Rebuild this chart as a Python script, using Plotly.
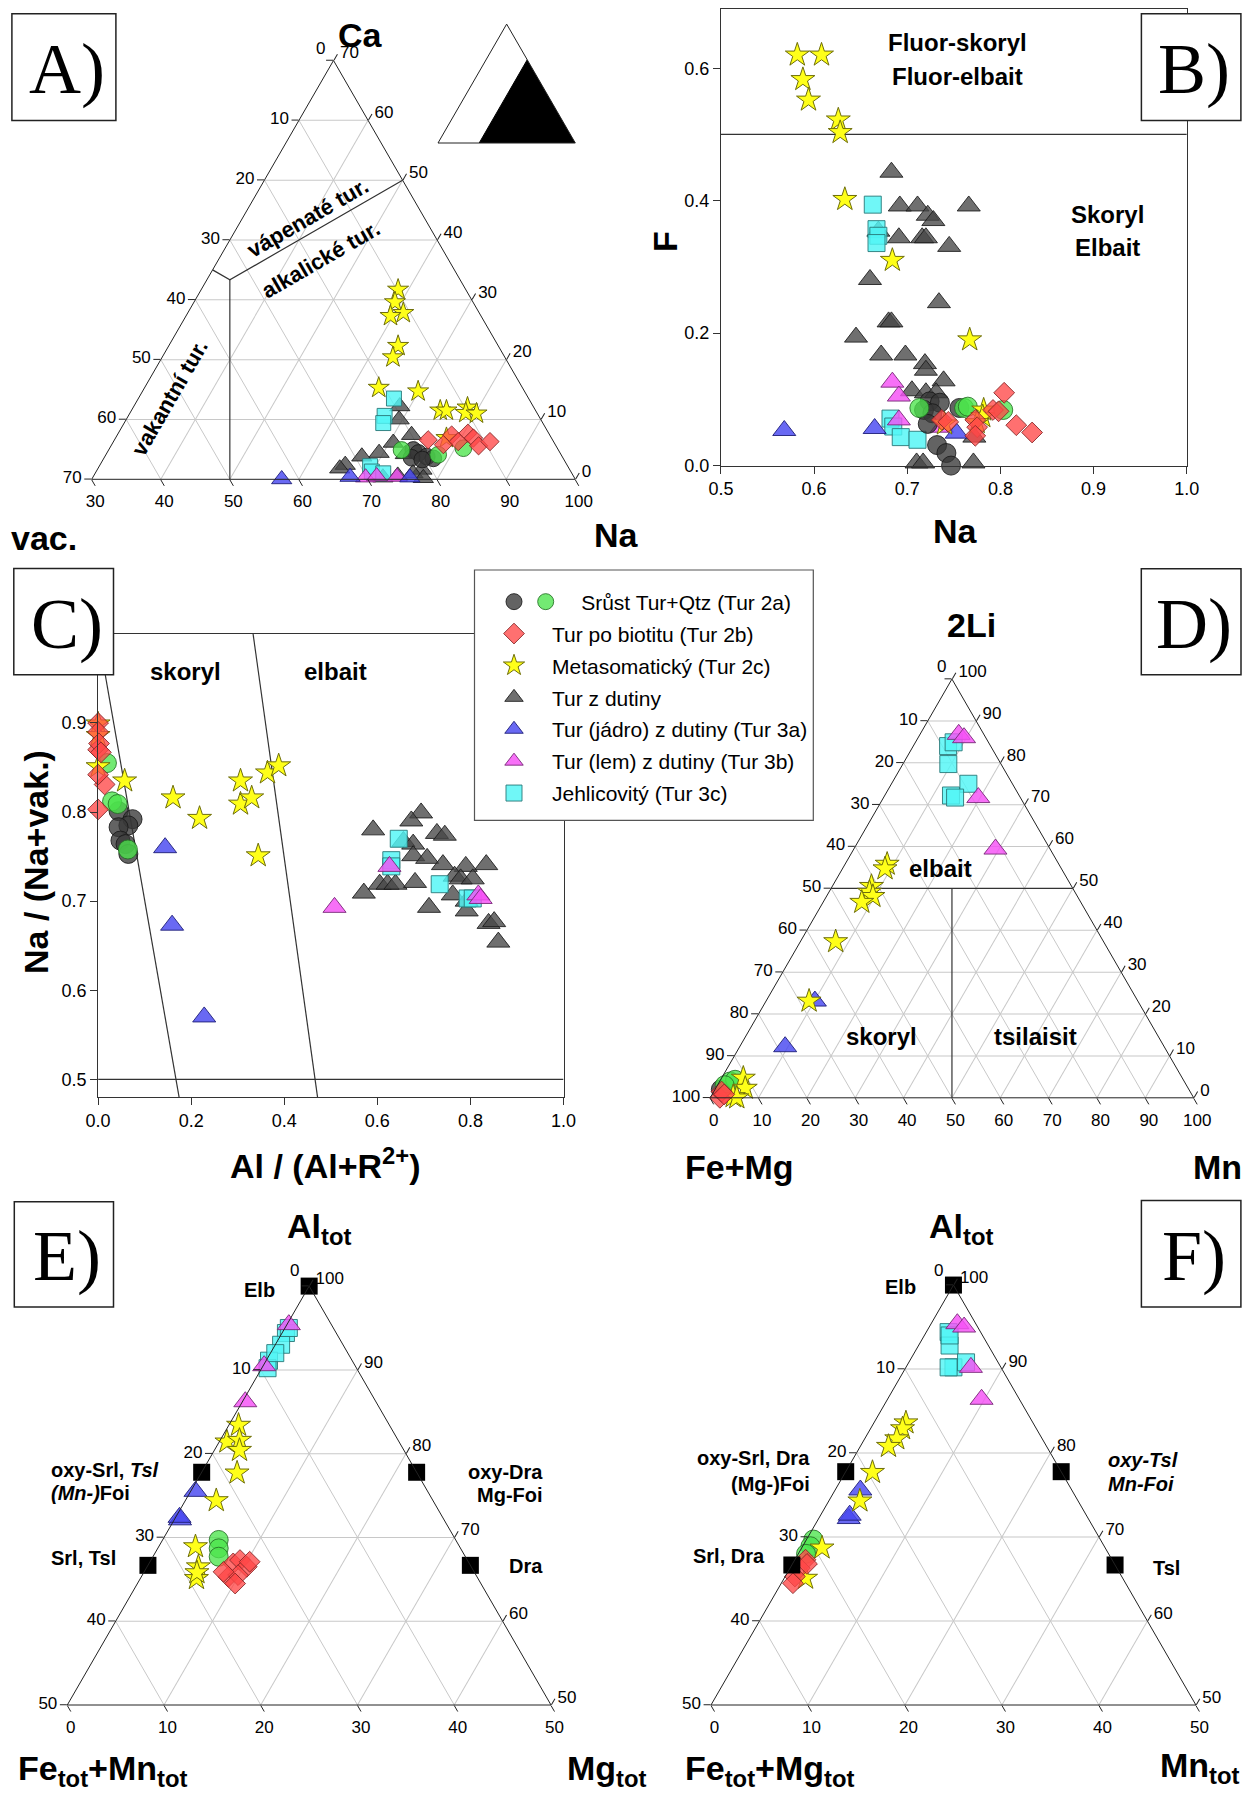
import math
import plotly.graph_objects as go

# page size and the 8px body margin of the html page
W, H = 1259, 1798
OX, OY = 8, 8
FW, FH = W - OX, H - OY
SANS = "Liberation Sans, Arial, Helvetica, sans-serif"
SERIF = "Liberation Serif, Times New Roman, serif"

# ======================= DATA =======================
cat_2a = "Srůst Tur+Qtz (Tur 2a)"
cat_2b = "Tur po biotitu (Tur 2b)"
cat_2c = "Metasomatický (Tur 2c)"
cat_dut = "Tur z dutiny"
cat_3a = "Tur (jádro) z dutiny (Tur 3a)"
cat_3b = "Tur (lem) z dutiny (Tur 3b)"
cat_3c = "Jehlicovitý (Tur 3c)"

# ---- A) ternary Ca / vac. / Na (vac. = 100 - Ca - Na)
A_dut_ca = [12.2, 10.0, 7.4, 6.1, 4.4, 3.8, 2.4, 1.8, 1.6, 1.0, 0.2, 0.3, 0.6, 4.2]
A_dut_na = [68.5, 69.5, 72.6, 70.6, 69.4, 67.2, 65.5, 65.0, 77.0, 76.0, 77.9, 72.0, 74.0, 73.3]
A_3c_ca = [13.5, 10.6, 9.4, 2.2, 1.3, 1.0]
A_3c_na = [67.0, 67.1, 67.5, 69.2, 69.9, 71.7]
A_3b_ca = [0.3, 0.4, 0.5]
A_3b_na = [69.5, 74.0, 71.0]
A_3a_ca = [0.0, 0.4, 0.3]
A_3a_na = [57.5, 67.2, 75.9]
A_2a_ca = [4.9, 4.4, 3.8, 3.5, 3.6, 3.3]
A_2a_na = [74.1, 75.1, 76.6, 77.7, 74.5, 76.2]
A_2ag_ca = [4.9, 4.1, 5.2]
A_2ag_na = [72.4, 78.1, 81.2]
A_2c_ca = [31.7, 29.6, 27.8, 27.3, 22.3, 20.4, 15.3, 14.7, 11.5, 11.5, 12.0, 11.1, 11.0, 6.9]
A_2c_na = [58.5, 59.1, 61.2, 59.6, 63.2, 63.4, 63.9, 69.9, 74.7, 75.6, 78.4, 78.6, 80.2, 77.9]
A_2b_ca = [6.6, 7.4, 7.7, 6.9, 5.6, 6.3, 5.8, 6.3]
A_2b_na = [75.4, 78.4, 80.6, 81.8, 83.2, 84.5, 78.0, 79.9]
A_line1_ca = [35.0, 33.33, 50.0]
A_line1_na = [30.0, 33.33, 50.0]
A_line2_ca = [33.33, 0.0]
A_line2_na = [33.33, 50.0]
ICON_ca = [70, 0, 0, 70]
ICON_na = [30, 30, 100, 30]

# ---- B) Na vs F
B_dut_na = [0.683, 0.692, 0.711, 0.766, 0.722, 0.728, 0.691, 0.716, 0.720, 0.745, 0.669, 0.660, 0.734, 0.680,
            0.683, 0.645, 0.672, 0.698, 0.719, 0.720, 0.739, 0.705, 0.720, 0.731, 0.710, 0.717, 0.771, 0.772]
B_dut_f = [0.443, 0.392, 0.392, 0.392, 0.378, 0.370, 0.344, 0.344, 0.344, 0.331, 0.354, 0.281, 0.246, 0.217,
           0.217, 0.194, 0.167, 0.167, 0.154, 0.144, 0.128, 0.113, 0.110, 0.110, 0.004, 0.004, 0.004, 0.043]
B_3c_na = [0.663, 0.667, 0.669, 0.667, 0.682, 0.685, 0.693, 0.711]
B_3c_f = [0.394, 0.357, 0.347, 0.336, 0.071, 0.059, 0.043, 0.039]
B_3b_na = [0.684, 0.691, 0.691, 0.737]
B_3b_f = [0.126, 0.105, 0.069, 0.058]
B_3a_na = [0.568, 0.665, 0.753]
B_3a_f = [0.053, 0.056, 0.049]
B_2a_na = [0.724, 0.735, 0.718, 0.727, 0.722, 0.732, 0.742, 0.747, 0.756]
B_2a_f = [0.097, 0.095, 0.084, 0.079, 0.063, 0.031, 0.019, 0.000, 0.087]
B_2ag_na = [0.713, 0.761, 0.765, 0.803]
B_2ag_f = [0.087, 0.087, 0.089, 0.084]
B_2c_na = [0.582, 0.608, 0.588, 0.594, 0.626, 0.628, 0.633, 0.684, 0.767, 0.782, 0.781, 0.740, 0.775]
B_2c_f = [0.620, 0.620, 0.583, 0.552, 0.522, 0.503, 0.402, 0.310, 0.190, 0.084, 0.074, 0.063, 0.065]
B_2b_na = [0.804, 0.817, 0.834, 0.792, 0.798, 0.737, 0.744, 0.773, 0.775, 0.773]
B_2b_f = [0.110, 0.061, 0.050, 0.084, 0.082, 0.069, 0.066, 0.069, 0.058, 0.045]
B_line_na = [0.5, 1.0]
B_line_f = [0.5, 0.5]
B_xticks = [0.5, 0.6, 0.7, 0.8, 0.9, 1.0]
B_yticks = [0.0, 0.2, 0.4, 0.6]

# ---- C) Al/(Al+R2+) vs Na/(Na+vak.)
C_dut_x = [0.591, 0.694, 0.673, 0.728, 0.745, 0.656, 0.677, 0.677, 0.707, 0.741, 0.790, 0.834, 0.766, 0.779,
           0.805, 0.571, 0.605, 0.622, 0.639, 0.681, 0.762, 0.711, 0.792, 0.839, 0.851, 0.860, 0.792]
C_dut_y = [0.780, 0.799, 0.790, 0.776, 0.774, 0.767, 0.764, 0.751, 0.748, 0.741, 0.739, 0.741, 0.728, 0.725,
           0.725, 0.709, 0.719, 0.719, 0.719, 0.721, 0.707, 0.693, 0.689, 0.675, 0.677, 0.654, 0.700]
C_3c_x = [0.646, 0.630, 0.630, 0.734, 0.794, 0.805]
C_3c_y = [0.770, 0.746, 0.739, 0.719, 0.703, 0.703]
C_3b_x = [0.508, 0.626, 0.817, 0.822]
C_3b_y = [0.693, 0.739, 0.707, 0.703]
C_3a_x = [0.144, 0.159, 0.228]
C_3a_y = [0.760, 0.673, 0.570]
C_2a_x = [0.044, 0.074, 0.065, 0.044, 0.048, 0.059, 0.065]
C_2a_y = [0.801, 0.792, 0.785, 0.783, 0.768, 0.764, 0.753]
C_2ag_x = [0.019, 0.030, 0.042, 0.064]
C_2ag_y = [0.855, 0.812, 0.809, 0.758]
C_2c_x = [0.0, 0.0, 0.0, 0.057, 0.161, 0.218, 0.306, 0.306, 0.330, 0.364, 0.388, 0.344]
C_2c_y = [0.899, 0.886, 0.851, 0.835, 0.816, 0.793, 0.835, 0.809, 0.816, 0.844, 0.852, 0.751]
C_2b_x = [0.0, 0.0, 0.0, 0.002, 0.014, 0.0, 0.0, 0.006]
C_2b_y = [0.900, 0.890, 0.870, 0.877, 0.831, 0.842, 0.803, 0.867]
C_hline_x = [0.0, 1.0]
C_hline_y = [0.5, 0.5]
C_line1_x = [0.0, 0.174]
C_line1_y = [1.0, 0.48]
C_line2_x = [0.333, 0.4715]
C_line2_y = [1.0, 0.48]
C_xticks = [0.0, 0.2, 0.4, 0.6, 0.8, 1.0]
C_yticks = [0.5, 0.6, 0.7, 0.8, 0.9]

# ---- D) ternary 2Li / Fe+Mg / Mn
D_3c_li = [84.0, 84.9, 79.7, 72.2, 75.0, 71.7]
D_3c_mn = [7.2, 7.9, 9.4, 13.7, 15.9, 14.8]
D_3b_li = [86.8, 86.0, 71.7, 59.4]
D_3b_mn = [8.0, 9.5, 19.6, 29.3]
D_3a_li = [23.1, 12.2]
D_3a_mn = [10.1, 9.4]
D_2a_li = [2.0]
D_2a_mn = [1.2]
D_2ag_li = [3.9, 4.3, 3.0]
D_2ag_mn = [2.2, 3.0, 1.5]
D_2c_li = [55.8, 54.7, 50.5, 49.1, 48.1, 46.7, 37.3, 23.1, 4.7, 2.3, 0.3, 0.0]
D_2c_mn = [8.7, 8.8, 8.1, 8.4, 9.6, 8.0, 7.3, 8.9, 4.5, 6.1, 4.6, 5.5]
D_2b_li = [0.0, 1.5, 0.8]
D_2b_mn = [2.0, 1.6, 2.5]
D_line1_li = [50, 50]
D_line1_mn = [0, 50]
D_line2_li = [50, 0]
D_line2_mn = [25, 50]

# ---- E) ternary Al_tot / Fe_tot+Mn_tot / Mg_tot
E_3c_al = [94.4, 93.0, 91.1, 90.2, 95.0, 92.0]
E_3c_mg = [0.4, 0.6, 0.3, 0.6, 0.4, 0.5]
E_3b_al = [95.4, 86.2, 90.5]
E_3b_mg = [0.2, 0.3, 0.1]
E_3a_al = [75.5, 72.1, 72.4]
E_3a_mg = [0.5, 0.6, 0.4]
E_2ag_al = [69.7, 68.7, 67.7]
E_2ag_mg = [5.8, 6.3, 6.8]
E_2c_al = [83.4, 81.4, 81.6, 80.4, 77.7, 74.4, 68.9, 66.5, 65.1, 65.8]
E_2c_mg = [1.0, 0.8, 2.0, 2.6, 3.7, 3.2, 3.8, 5.3, 5.8, 5.5]
E_2b_al = [66.9, 67.3, 66.5, 65.3, 65.5, 67.1, 65.9, 64.5]
E_2b_mg = [8.7, 9.2, 10.3, 9.0, 9.9, 10.3, 8.2, 10.1]
EM_al = [100.0, 77.78, 66.67, 77.78, 66.67]
EM_right = [0.0, 0.0, 0.0, 22.22, 33.33]

# ---- F) ternary Al_tot / Fe_tot+Mg_tot / Mn_tot
F_3c_al = [94.4, 92.8, 90.2, 90.2, 90.8, 94.0]
F_3c_mn = [2.3, 3.2, 4.9, 4.4, 5.9, 2.6]
F_3b_al = [95.4, 95.0, 90.2, 86.4]
F_3b_mn = [2.7, 3.6, 6.7, 9.7]
F_3a_al = [75.6, 72.2, 72.6]
F_3a_mn = [2.6, 3.1, 3.0]
F_2ag_al = [69.7, 68.9, 68.0]
F_2ag_mn = [0.7, 0.8, 0.8]
F_2c_al = [83.6, 82.9, 81.7, 80.8, 77.7, 74.3, 68.7, 65.1]
F_2c_mn = [3.3, 3.3, 3.3, 2.9, 2.8, 3.2, 2.1, 2.2]
F_2b_al = [67.3, 66.3, 65.3, 64.5, 66.8]
F_2b_mn = [1.1, 1.0, 1.0, 1.2, 1.5]

# ======================= STYLES =======================
STY = {
    'dut': dict(symbol='triangle-up', size=20, color='rgba(70,70,70,0.78)', line='rgba(25,25,25,0.85)'),
    '3c': dict(symbol='square', size=17, color='rgba(80,245,245,0.82)', line='rgba(40,120,120,0.9)'),
    '3b': dict(symbol='triangle-up', size=20, color='rgba(245,80,245,0.82)', line='rgba(120,40,120,0.9)'),
    '3a': dict(symbol='triangle-up', size=20, color='rgba(72,72,240,0.82)', line='rgba(30,30,120,0.9)'),
    '2a': dict(symbol='circle', size=19, color='rgba(55,55,55,0.78)', line='rgba(25,25,25,0.85)'),
    '2ag': dict(symbol='circle', size=19, color='rgba(75,228,75,0.78)', line='rgba(35,110,35,0.85)'),
    '2c': dict(symbol='star', size=18, color='rgb(255,255,25)', line='rgb(110,110,10)'),
    '2b': dict(symbol='diamond', size=16, color='rgba(255,72,72,0.78)', line='rgba(130,35,35,0.85)'),
}
NAMES = {'2a': cat_2a, '2b': cat_2b, '2c': cat_2c, 'dut': cat_dut, '3a': cat_3a, '3b': cat_3b, '3c': cat_3c}
RANK = {'2a': 1, '2b': 2, '2c': 3, 'dut': 4, '3a': 5, '3b': 6, '3c': 7}
ORDER = ['dut', '3c', '3b', '3a', '2a', '2ag', '2c', '2b']

fig = go.Figure()


def mk_marker(key, scale):
    s = STY[key]
    return dict(symbol=s['symbol'], size=s['size'] * scale, color=s['color'],
                line=dict(color=s['line'], width=1))


def add_tern(sub, series, scale):
    for key in ORDER:
        if key in series:
            a, c = series[key]
            fig.add_trace(go.Scatterternary(a=a, c=c, mode='markers', subplot=sub, cliponaxis=False,
                                            showlegend=False, hoverinfo='skip', marker=mk_marker(key, scale)))


def add_tern_line(sub, a, c):
    fig.add_trace(go.Scatterternary(a=a, c=c, mode='lines', subplot=sub, showlegend=False, hoverinfo='skip',
                                    line=dict(color='#333333', width=1.2)))


def add_cart(xa, ya, series, legend=False):
    for key in ORDER:
        if key in series:
            x, y = series[key]
            kw = dict(showlegend=False)
            if legend:
                if key == '2ag':
                    kw = dict(showlegend=True, name=' ', legend='legend2')
                else:
                    nm = NAMES[key]
                    if key == '2a':
                        nm = '\u00a0' * 5 + nm
                    kw = dict(showlegend=True, name=nm, legendgroup=key, legendrank=RANK[key])
            fig.add_trace(go.Scatter(x=x, y=y, mode='markers', xaxis=xa, yaxis=ya, cliponaxis=False,
                                     hoverinfo='skip', marker=mk_marker(key, 1.0), **kw))


def add_cart_line(xa, ya, x, y):
    fig.add_trace(go.Scatter(x=x, y=y, mode='lines', xaxis=xa, yaxis=ya, showlegend=False, hoverinfo='skip',
                             line=dict(color='#333333', width=1.2)))


# ---- panel A
add_tern_line('ternary', A_line1_ca, A_line1_na)
add_tern_line('ternary', A_line2_ca, A_line2_na)
add_tern('ternary', {'dut': (A_dut_ca, A_dut_na), '3c': (A_3c_ca, A_3c_na), '3b': (A_3b_ca, A_3b_na),
                     '3a': (A_3a_ca, A_3a_na), '2a': (A_2a_ca, A_2a_na), '2ag': (A_2ag_ca, A_2ag_na),
                     '2c': (A_2c_ca, A_2c_na), '2b': (A_2b_ca, A_2b_na)}, 0.88)
fig.add_trace(go.Scatterternary(a=ICON_ca, c=ICON_na, mode='lines', fill='toself', subplot='ternary5',
                                fillcolor='black', line=dict(color='black', width=1), showlegend=False,
                                hoverinfo='skip'))

# ---- panel B
add_cart_line('x', 'y', B_line_na, B_line_f)
add_cart('x', 'y', {'dut': (B_dut_na, B_dut_f), '3c': (B_3c_na, B_3c_f), '3b': (B_3b_na, B_3b_f),
                    '3a': (B_3a_na, B_3a_f), '2a': (B_2a_na, B_2a_f), '2ag': (B_2ag_na, B_2ag_f),
                    '2c': (B_2c_na, B_2c_f), '2b': (B_2b_na, B_2b_f)})

# ---- panel C
add_cart_line('x2', 'y2', C_hline_x, C_hline_y)
add_cart_line('x2', 'y2', C_line1_x, C_line1_y)
add_cart_line('x2', 'y2', C_line2_x, C_line2_y)
add_cart('x2', 'y2', {'dut': (C_dut_x, C_dut_y), '3c': (C_3c_x, C_3c_y), '3b': (C_3b_x, C_3b_y),
                      '3a': (C_3a_x, C_3a_y), '2a': (C_2a_x, C_2a_y), '2ag': (C_2ag_x, C_2ag_y),
                      '2c': (C_2c_x, C_2c_y), '2b': (C_2b_x, C_2b_y)}, legend=True)

# ---- panel D
add_tern_line('ternary2', D_line1_li, D_line1_mn)
add_tern_line('ternary2', D_line2_li, D_line2_mn)
add_tern('ternary2', {'3c': (D_3c_li, D_3c_mn), '3b': (D_3b_li, D_3b_mn), '3a': (D_3a_li, D_3a_mn),
                      '2a': (D_2a_li, D_2a_mn), '2ag': (D_2ag_li, D_2ag_mn), '2c': (D_2c_li, D_2c_mn),
                      '2b': (D_2b_li, D_2b_mn)}, 1.0)

# ---- panel E
add_tern('ternary3', {'3c': (E_3c_al, E_3c_mg), '3b': (E_3b_al, E_3b_mg), '3a': (E_3a_al, E_3a_mg),
                      '2ag': (E_2ag_al, E_2ag_mg), '2c': (E_2c_al, E_2c_mg), '2b': (E_2b_al, E_2b_mg)}, 1.0)
fig.add_trace(go.Scatterternary(a=EM_al, c=EM_right, mode='markers', subplot='ternary3', cliponaxis=False,
                                showlegend=False, hoverinfo='skip',
                                marker=dict(symbol='square', size=17, color='black')))

# ---- panel F
add_tern('ternary4', {'3c': (F_3c_al, F_3c_mn), '3b': (F_3b_al, F_3b_mn), '3a': (F_3a_al, F_3a_mn),
                      '2ag': (F_2ag_al, F_2ag_mn), '2c': (F_2c_al, F_2c_mn), '2b': (F_2b_al, F_2b_mn)}, 1.0)
fig.add_trace(go.Scatterternary(a=EM_al, c=EM_right, mode='markers', subplot='ternary4', cliponaxis=False,
                                showlegend=False, hoverinfo='skip',
                                marker=dict(symbol='square', size=17, color='black')))

# ======================= LAYOUT =======================
SQ3 = math.sqrt(3) / 2


def fx(x):
    return min(1.0, max(0.0, (x - OX) / FW))


def fy(y):
    return min(1.0, max(0.0, 1 - (y - OY) / FH))


def tdomain(x0, x1, ybot):
    ytop = ybot - (x1 - x0) * SQ3
    return dict(x=[fx(x0), fx(x1)], y=[fy(ybot), fy(ytop)])


def tlayout(x0, x1, ybot, amin=0, bmin=0, cmin=0, step=10, show=True):
    S = 100

    def ax(mn, vals, labels):
        d = dict(min=mn, linecolor='#222222', linewidth=1, showline=True,
                 title=dict(text=''), layer='above traces')
        if show:
            d.update(tickmode='array', tickvals=vals, ticktext=labels, ticks='outside', ticklen=7,
                     tickwidth=1, tickcolor='#222222', showgrid=True, gridcolor='#c8c8c8', gridwidth=1,
                     tickfont=dict(family=SANS, size=17, color='black'))
        else:
            d.update(showgrid=False, showticklabels=False, ticks='')
        return d

    av = list(range(amin, S - bmin - cmin + 1, step))
    bv = list(range(bmin, S - amin - cmin + 1, step))
    cv = list(range(cmin, S - amin - bmin + 1, step))
    # the apex label ("0") is written separately above the apex, as in the original
    a_lab = [str(S - cmin - v) if v != av[-1] else '' for v in av]
    return dict(domain=tdomain(x0, x1, ybot), sum=S, bgcolor='white',
                aaxis=ax(amin, av, a_lab),
                baxis=ax(bmin, bv, [str(S - amin - v) for v in bv]),
                caxis=ax(cmin, cv, [str(S - bmin - v) for v in cv]))


def cax(dom, rng, ticks, anchor, fmt):
    return dict(domain=dom, range=rng, anchor=anchor, tickmode='array', tickvals=ticks,
                ticktext=[fmt.format(v) for v in ticks], showline=True, mirror=True, linecolor='#333333',
                linewidth=1, ticks='outside', ticklen=7, tickcolor='#333333', showgrid=False, zeroline=False,
                automargin=False, tickfont=dict(family=SANS, size=18, color='black'))


annotations = []


def ann(text, x, y, size=25, bold=True, angle=0, xanchor='center', family=SANS):
    annotations.append(dict(text=('<b>%s</b>' % text) if bold else text, x=fx(x), y=fy(y), xref='paper',
                            yref='paper', showarrow=False, textangle=angle, xanchor=xanchor,
                            yanchor='middle', font=dict(family=family, size=size, color='black')))


# apex tick labels
for ax_, ay_ in [(320.3, 48.2), (941.3, 666.8), (294.3, 1270.7), (938.9, 1270.7)]:
    ann('0', ax_, ay_, 17, bold=False)

# axis titles
T = 34
ann('Ca', 360, 35, T)
ann('vac.', 43.6, 538, T)
ann('Na', 616, 535, T)
ann('Na', 955, 531, T)
ann('F', 665, 241, T, angle=-90)
ann('Al / (Al+R<sup>2+</sup>)', 325, 1163, T)
ann('Na / (Na+vak.)', 36, 862, T, angle=-90)
ann('2Li', 971.5, 625, T)
ann('Fe+Mg', 739.3, 1167, T)
ann('Mn', 1217, 1167, T)
ann('Al<sub>tot</sub>', 319, 1228, T)
ann('Fe<sub>tot</sub>+Mn<sub>tot</sub>', 102, 1770, T)
ann('Mg<sub>tot</sub>', 607, 1770, T)
ann('Al<sub>tot</sub>', 961, 1228, T)
ann('Fe<sub>tot</sub>+Mg<sub>tot</sub>', 769, 1770, T)
ann('Mn<sub>tot</sub>', 1200, 1767, T)

# field labels
ann('vápenaté tur.', 308.4, 217.6, 22, angle=-30)
ann('alkalické tur.', 321, 260, 22, angle=-30)
ann('vakantní tur.', 170, 397.7, 22, angle=-60)
ann('Fluor-skoryl', 957.8, 43, 24)
ann('Fluor-elbait', 957.8, 76.4, 24)
ann('Skoryl', 1107.8, 215, 24)
ann('Elbait', 1107.8, 248, 24)
ann('skoryl', 185, 671.4, 24)
ann('elbait', 335.3, 671.4, 24)
ann('elbait', 940.5, 868.4, 24)
ann('skoryl', 881.8, 1036.5, 24)
ann('tsilaisit', 1035.6, 1036.5, 24)

# end-member labels
ann('Elb', 259.6, 1290.4, 20)
ann('oxy-Srl, <i>Tsl</i>', 49, 1469.7, 20, xanchor='left')
ann('<i>(Mn-)</i>Foi', 49, 1493.4, 20, xanchor='left')
ann('Srl, Tsl', 49, 1558.4, 20, xanchor='left')
ann('oxy-Dra', 545, 1471.7, 20, xanchor='right')
ann('Mg-Foi', 545, 1495.3, 20, xanchor='right')
ann('Dra', 545, 1566.3, 20, xanchor='right')
ann('Elb', 900.6, 1287.2, 20)
ann('oxy-Srl, Dra', 811.7, 1457.9, 20, xanchor='right')
ann('(Mg-)Foi', 811.7, 1483.5, 20, xanchor='right')
ann('Srl, Dra', 690.5, 1556.4, 20, xanchor='left')
ann('<i>oxy-Tsl</i>', 1105.9, 1459.9, 20, xanchor='left')
ann('<i>Mn-Foi</i>', 1105.9, 1483.5, 20, xanchor='left')
ann('Tsl', 1181.6, 1568.3, 20, xanchor='right')

# panel letter boxes
shapes = []
boxes = [('A)', 11.9, 13.8, 115.9, 120.5), ('B)', 1141.4, 13.8, 1240.9, 120.5),
         ('C)', 13.8, 568.6, 113.5, 674.7), ('D)', 1141.3, 568.7, 1241.0, 674.7),
         ('E)', 14.3, 1201.7, 113.5, 1306.9), ('F)', 1141.4, 1200.5, 1240.9, 1306.9)]
for lab, x0, y0, x1, y1 in boxes:
    shapes.append(dict(type='rect', xref='paper', yref='paper', x0=fx(x0), x1=fx(x1), y0=fy(y1), y1=fy(y0),
                       line=dict(color='#222222', width=1.5), fillcolor='white', layer='above'))
    ann(lab, (x0 + x1) / 2 + 3, (y0 + y1) / 2 + 2, 72, bold=False, family=SERIF)

# legend frame
shapes.append(dict(type='rect', xref='paper', yref='paper', x0=fx(474.5), x1=fx(813.3), y0=fy(820.4),
                   y1=fy(570), line=dict(color='#555555', width=1.2), fillcolor='white', layer='above'))

# B: plot area starts at the top of the drawable page; keep the F scale (662.3 px per unit)
B_top_px, B_bot_px = 9.0, 465.6
B_yrange = [0.0, (B_bot_px - B_top_px) / 662.3]

fig.update_layout(
    width=FW, height=FH, margin=dict(l=0, r=0, t=0, b=0, autoexpand=False),
    paper_bgcolor='white', plot_bgcolor='white',
    font=dict(family=SANS, color='black'),
    ternary=tlayout(91.7, 575.3, 479.3, cmin=30),
    ternary2=tlayout(710.2, 1193.7, 1097.8),
    ternary3=tlayout(67.3, 551.0, 1705.0, amin=50),
    ternary4=tlayout(711.0, 1195.9, 1705.0, amin=50),
    ternary5=tlayout(438.0, 575.3, 143.0, show=False),
    xaxis=cax([fx(720.9), fx(1186.8)], [0.5, 1.0], B_xticks, 'y', '{:.1f}'),
    yaxis=cax([fy(B_bot_px), fy(B_top_px)], B_yrange, B_yticks, 'x', '{:.1f}'),
    xaxis2=cax([fx(98.1), fx(563.5)], [0.0, 1.0], C_xticks, 'y2', '{:.1f}'),
    yaxis2=cax([fy(1097.1), fy(633.9)], [0.48, 1.0], C_yticks, 'x2', '{:.1f}'),
    legend=dict(x=fx(476), y=fy(581.5), xanchor='left', yanchor='top', bgcolor='rgba(0,0,0,0)',
                borderwidth=0, font=dict(family=SANS, size=21, color='black'), itemwidth=66,
                tracegroupgap=1.6, itemclick=False, itemdoubleclick=False),
    legend2=dict(x=fx(525.7), y=fy(581.5), xanchor='left', yanchor='top',
                 bgcolor='rgba(0,0,0,0)', borderwidth=0, font=dict(family=SANS, size=21),
                 itemwidth=30, itemclick=False, itemdoubleclick=False),
    annotations=annotations,
    shapes=shapes,
    hovermode=False,
)

fig.write_html("out.html")
